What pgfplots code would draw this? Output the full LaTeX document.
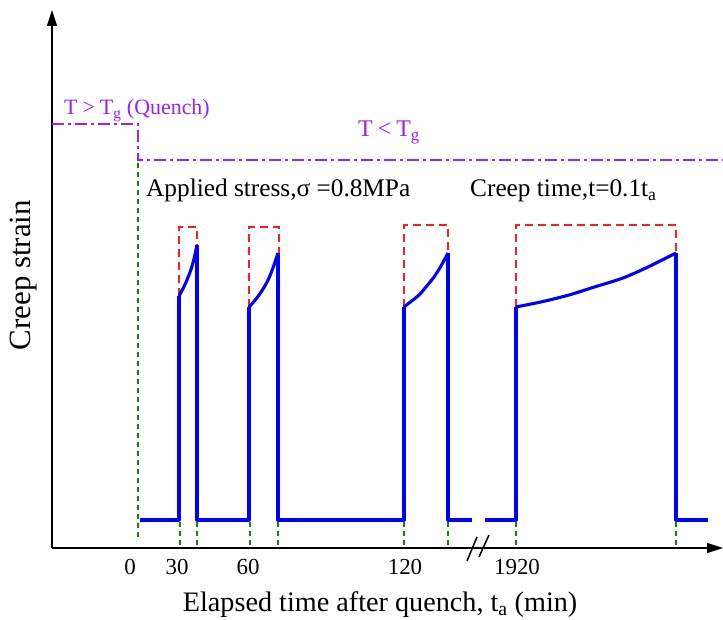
\documentclass[border=0pt]{standalone}
\usepackage{pgfplots}
\pgfplotsset{compat=1.18}
\usetikzlibrary{arrows.meta}
\usepackage{fontspec}
\setmainfont{Liberation Serif}
\definecolor{cblue}{RGB}{0,0,255}
\definecolor{cred}{RGB}{255,30,30}
\definecolor{cgreen}{RGB}{20,130,20}
\definecolor{cpurple}{RGB}{160,32,240}
\begin{document}
\begin{tikzpicture}
\begin{axis}[
    scale only axis,
    width=671bp, height=538bp,
    xmin=52, xmax=723, ymin=72, ymax=610,
    axis lines=left,
    axis line style={line width=1.5bp,-{Triangle[length=16bp,width=10bp]}},
    clip=false,
    ytick=\empty,
    xtick={130,177,248,405,517},
    xticklabels={0,30,60,120,1920},
    major tick length=0pt,
    /pgf/number format/assume math mode=true,
    xticklabel style={font=\fontsize{23}{26}\selectfont, yshift=-8bp},
    xlabel={Elapsed time after quench, t\textsubscript{a} (min)},
    xlabel style={font=\fontsize{28.3}{32}\selectfont, at={(axis description cs:0.489,-0.106)}, anchor=center},
    ylabel={Creep strain},
    ylabel style={font=\fontsize{31}{34}\selectfont, at={(axis description cs:-0.043,0.507)}, anchor=center},
]
% temperature history
\addplot[cpurple, line width=1.5bp, dash pattern=on 12bp off 4bp on 3bp off 4bp]
    coordinates {(52,496) (138,496) (138,460) (723,460)};
% green guide lines
\addplot[cgreen, line width=1.2bp, dash pattern=on 5bp off 4bp] coordinates {(138,457) (138,80)};
\foreach \xx in {180,197,250,278,404,448,516,676} {
  \edef\tmp{\noexpand\addplot[cgreen, line width=1.2bp, dash pattern=on 5bp off 4bp] coordinates {(\xx,98) (\xx,74)};}
  \tmp
}
% red dashed boxes
\addplot[cred, line width=1.5bp, dash pattern=on 8bp off 5bp] coordinates {(179,324) (179,393) (197,393) (197,375)};
\addplot[cred, line width=1.5bp, dash pattern=on 8bp off 5bp] coordinates {(249,313) (249,393) (279,393) (279,367)};
\addplot[cred, line width=1.5bp, dash pattern=on 8bp off 5bp] coordinates {(404,313) (404,395) (448,395) (448,367)};
\addplot[cred, line width=1.5bp, dash pattern=on 8bp off 5bp] coordinates {(516,313) (516,395) (676,395) (676,367)};
% creep strain response: baseline and jumps
\addplot[cblue, line width=3.1bp, line join=round] coordinates {
    (140,100) (179,100) (179,324)};
\addplot[cblue, line width=3.1bp, line join=round] coordinates {
    (197,375) (197,100) (249,100) (249,313)};
\addplot[cblue, line width=3.1bp, line join=round] coordinates {
    (278,367) (278,100) (404,100) (404,313)};
\addplot[cblue, line width=3.1bp, line join=round] coordinates {
    (448,367) (448,100) (472,100)};
\addplot[cblue, line width=3.1bp, line join=round] coordinates {
    (485,100) (516,100) (516,313)};
\addplot[cblue, line width=3.1bp, line join=round] coordinates {
    (676,367) (676,100) (708,100)};
% creep curves
\addplot[cblue, line width=3.1bp, smooth] coordinates {
    (179,324) (182,329.5) (185,335.5) (188,342.5) (191,350.5) (194,361) (197,375)};
\addplot[cblue, line width=3.1bp, smooth] coordinates {
    (249,313) (254,318.5) (259,325) (264,332.5) (269,342) (274,355) (278,367)};
\addplot[cblue, line width=3.1bp, smooth] coordinates {
    (404,313) (411,318.5) (419,325) (426,333) (434,343) (441,354) (448,367)};
\addplot[cblue, line width=3.1bp, smooth] coordinates {
    (516,313) (543,318.5) (569,325) (596,333.5) (623,342) (649,353.5) (676,367)};
% axis break
\addplot[black, line width=1.5bp] coordinates {(467,59) (477,83)};
\addplot[black, line width=1.5bp] coordinates {(479,63) (489,85)};
% texts
\node[cpurple, anchor=base west, font=\fontsize{22}{26}\selectfont, inner sep=0pt]
    at (axis cs:64,505) {T\kern5bp>\kern5bp T\textsubscript{g} (Quench)};
\node[cpurple, anchor=base west, font=\fontsize{24}{28}\selectfont, inner sep=0pt]
    at (axis cs:358,483) {T\kern5bp<\kern5bp T\textsubscript{g}};
\node[black, anchor=base west, font=\fontsize{25.4}{28}\selectfont, inner sep=0pt]
    at (axis cs:146,423) {Applied stress,σ =0.8MPa};
\node[black, anchor=base west, font=\fontsize{25.4}{28}\selectfont, inner sep=0pt]
    at (axis cs:470,423) {Creep time,t=0.1t\textsubscript{a}};
\coordinate (bl) at (axis cs:0,0);
\coordinate (tr) at (axis cs:723,620);
\end{axis}
\pgfresetboundingbox
\path (bl) rectangle (tr);
\end{tikzpicture}
\end{document}
